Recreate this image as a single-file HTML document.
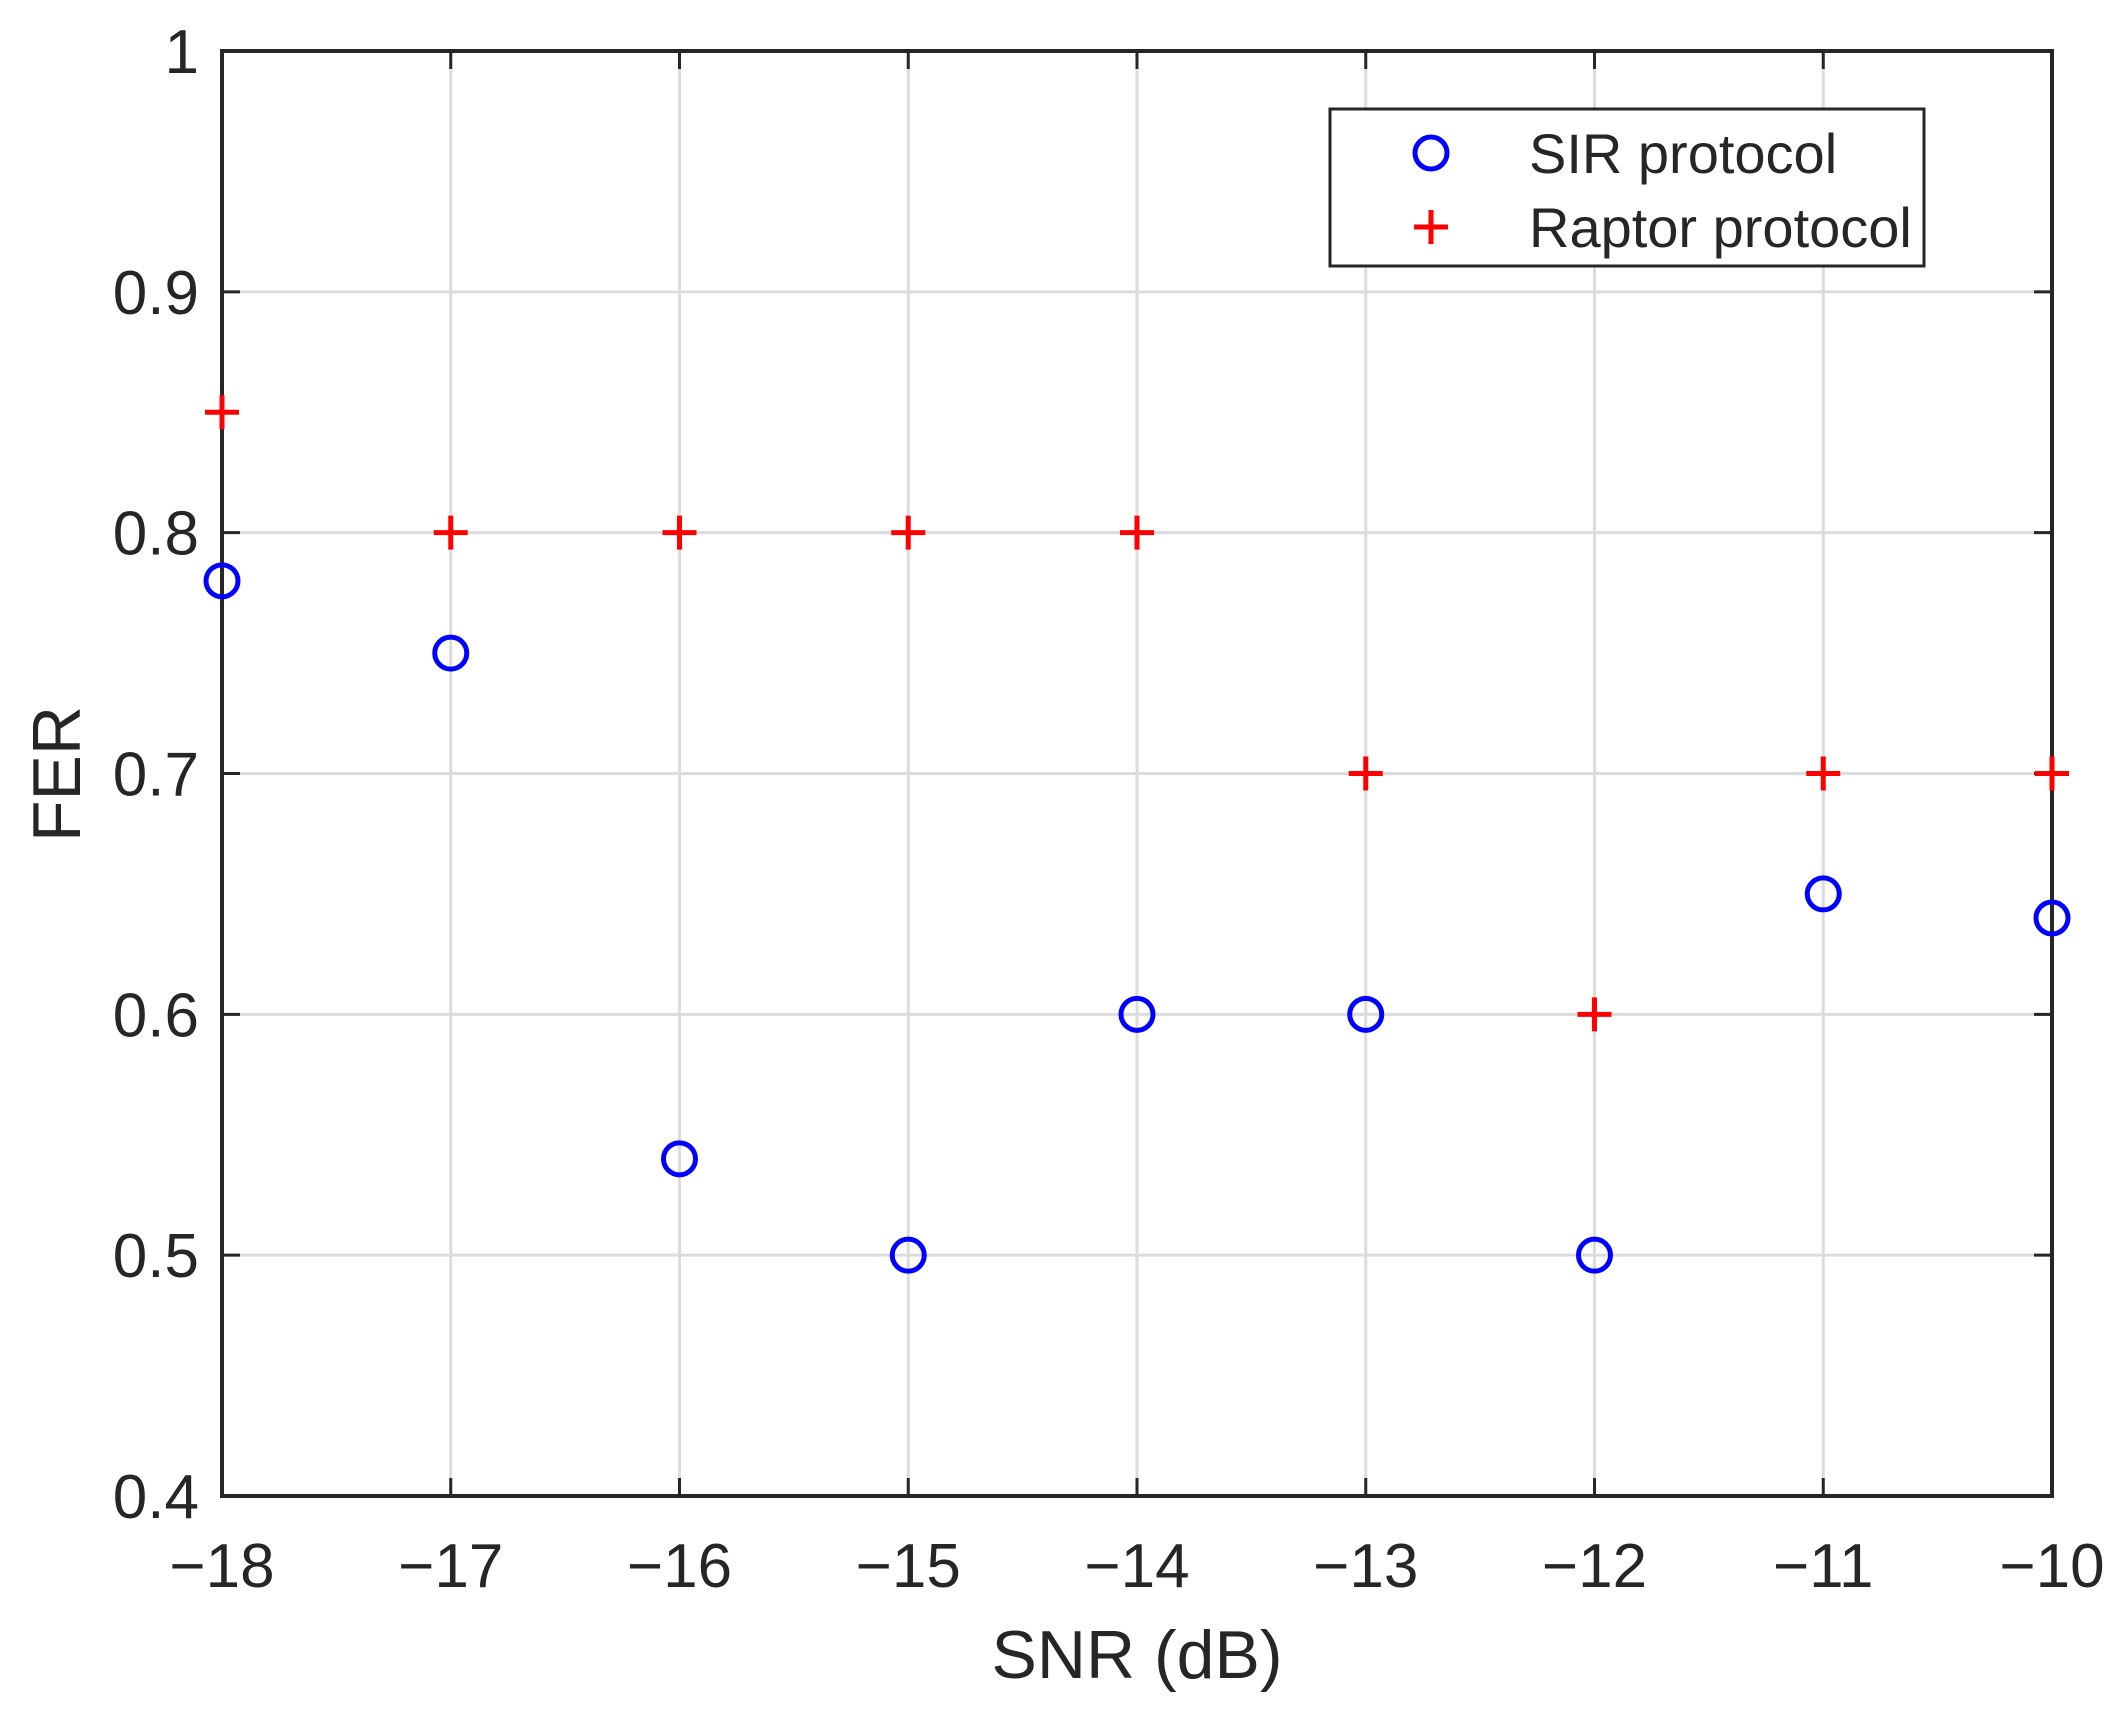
<!DOCTYPE html>
<html><head><meta charset="utf-8"><style>
html,body{margin:0;padding:0;background:#fff;}
svg text{font-family:"Liberation Sans",Arial,sans-serif;fill:#262626;}
</style></head><body>
<svg id="chart" width="2128" height="1704" xmlns="http://www.w3.org/2000/svg">
<g id="grid"></g>
<g id="axes"></g>
<g id="marks"></g>
<g id="legend">
<rect x="1330" y="109" width="594" height="157" fill="#fff" stroke="#262626" stroke-width="3"/>
<circle cx="1431" cy="153" r="16" fill="none" stroke="#0000ff" stroke-width="5"/>
<text x="1529" y="173" font-size="56">SIR protocol</text>
<path d="M1414 227H1448M1431 210V244" stroke="#ff0000" stroke-width="5"/>
<text x="1529" y="247" font-size="56">Raptor protocol</text>
</g>
<text x="1137" y="1678" font-size="68" text-anchor="middle">SNR (dB)</text>
<text transform="translate(80,774) rotate(-90)" font-size="68" text-anchor="middle">FER</text>
</svg>
<script>
const snr = [-18,-17,-16,-15,-14,-13,-12,-11,-10];
const sirFER = [0.78,0.75,0.54,0.50,0.60,0.60,0.50,0.65,0.64];
const raptorFER = [0.85,0.80,0.80,0.80,0.80,0.70,0.60,0.70,0.70];
const xTicks = [-18,-17,-16,-15,-14,-13,-12,-11,-10];
const yTicks = [0.4,0.5,0.6,0.7,0.8,0.9,1];
const L=222,R=2052,T=51,B=1496;
const xs=v=>L+(v+18)/8*(R-L);
const ys=v=>B-(v-0.4)/0.6*(B-T);
const NS="http://www.w3.org/2000/svg";
function mk(tag,attrs,parent){const e=document.createElementNS(NS,tag);for(const k in attrs)e.setAttribute(k,attrs[k]);parent.appendChild(e);return e;}
const grid=document.getElementById('grid'),axes=document.getElementById('axes'),marks=document.getElementById('marks');
xTicks.forEach(t=>{
  const x=xs(t);
  const g=mk('line',{x1:x,x2:x,y1:T,y2:B,stroke:'#dcdcdc','stroke-width':3},grid);
  
  
  const k1=mk('line',{x1:x,x2:x,y1:B,y2:B-18,stroke:'#262626','stroke-width':3},axes);
  
  
  const k2=mk('line',{x1:x,x2:x,y1:T,y2:T+18,stroke:'#262626','stroke-width':3},axes);
  
  
  const lb=mk('text',{x:x,y:1587,'font-size':62,'text-anchor':'middle'},axes);
  lb.textContent='\u2212'+Math.abs(t);
  
  
});
yTicks.forEach(t=>{
  const y=ys(t);
  const g=mk('line',{x1:L,x2:R,y1:y,y2:y,stroke:'#dcdcdc','stroke-width':3},grid);
  
  
  const k1=mk('line',{x1:L,x2:L+18,y1:y,y2:y,stroke:'#262626','stroke-width':3},axes);
  
  
  const k2=mk('line',{x1:R,x2:R-18,y1:y,y2:y,stroke:'#262626','stroke-width':3},axes);
  
  
  const lb=mk('text',{x:199,y:y+22,'font-size':62,'text-anchor':'end'},axes);
  lb.textContent=String(t);
  
  
});
const box=mk('rect',{x:L,y:T,width:R-L,height:B-T,fill:'none',stroke:'#262626','stroke-width':4},axes);


snr.forEach((s,i)=>{
  const c=mk('circle',{cx:xs(s),cy:ys(sirFER[i]),r:16,fill:'none',stroke:'#0000ff','stroke-width':5},marks);
  
  
  const x=xs(s),y=ys(raptorFER[i]);
  const p=mk('path',{d:`M${x-17} ${y}H${x+17}M${x} ${y-17}V${y+17}`,stroke:'#ff0000','stroke-width':5},marks);
  
  
});
</script>
</body></html>
